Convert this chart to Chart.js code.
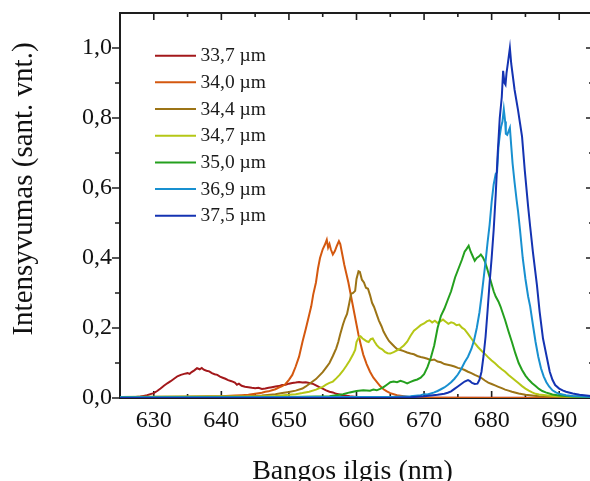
<!DOCTYPE html>
<html>
<head>
<meta charset="UTF-8" />
<style>
  html, body { margin: 0; padding: 0; overflow: hidden; background: #fff; }
  canvas { display: block; }
</style>
</head>
<body>
<canvas id="myChart" width="596" height="481"></canvas>
<script src="https://cdn.jsdelivr.net/npm/chart.js@4"></script>
<script>
// spectra: [wavelength nm, intensity a.u.]
const s337 = [[625,0.002],[626,0.003],[627,0.002],[628,0.004],[628.5,0.006],[629,0.008],[629.5,0.011],[630,0.014],[630.5,0.02],[631,0.027],[631.5,0.035],[632,0.042],[632.5,0.048],[633,0.055],[633.5,0.062],[634,0.066],[634.5,0.069],[635,0.071],[635.3,0.069],[635.6,0.074],[636,0.079],[636.4,0.085],[636.8,0.082],[637.1,0.086],[637.4,0.081],[637.8,0.078],[638.2,0.076],[638.6,0.071],[639,0.068],[639.4,0.066],[639.8,0.061],[640.2,0.058],[640.6,0.055],[641,0.051],[641.5,0.048],[642,0.044],[642.3,0.038],[642.6,0.041],[643,0.035],[643.5,0.032],[644,0.031],[644.5,0.029],[645,0.028],[645.5,0.029],[646,0.026],[646.5,0.027],[647,0.029],[647.5,0.031],[648,0.033],[648.5,0.034],[649,0.037],[649.5,0.038],[650,0.041],[650.5,0.043],[651,0.044],[651.5,0.046],[652,0.044],[652.5,0.045],[653,0.043],[653.5,0.041],[654,0.036],[654.5,0.031],[655,0.027],[655.5,0.022],[656,0.018],[656.5,0.016],[657,0.012],[657.5,0.01],[658,0.008],[659,0.005],[660,0.003],[665,0.002],[670,0.001],[680,0.001],[695,0.001]];
const s340 = [[625,0.003],[630,0.002],[635,0.003],[638,0.004],[640,0.005],[642,0.007],[643,0.008],[644,0.009],[645,0.012],[646,0.015],[646.5,0.018],[647,0.019],[647.5,0.022],[648,0.025],[648.5,0.03],[649,0.034],[649.5,0.04],[650,0.052],[650.5,0.066],[651,0.09],[651.5,0.118],[652,0.16],[652.5,0.198],[653,0.238],[653.3,0.262],[653.6,0.296],[654,0.33],[654.3,0.37],[654.6,0.4],[655,0.425],[655.3,0.437],[655.6,0.452],[655.8,0.43],[656,0.44],[656.2,0.425],[656.5,0.41],[656.8,0.42],[657.1,0.435],[657.4,0.448],[657.6,0.44],[657.9,0.41],[658.2,0.38],[658.5,0.355],[658.8,0.33],[659.1,0.3],[659.4,0.27],[659.7,0.24],[660,0.21],[660.3,0.18],[660.6,0.155],[661,0.124],[661.5,0.097],[662,0.075],[662.5,0.058],[663,0.046],[663.5,0.034],[664,0.025],[664.5,0.019],[665,0.014],[666,0.008],[667,0.005],[668,0.002],[670,0.001],[680,0],[695,0]];
const s344 = [[625,0.003],[635,0.004],[640,0.004],[644,0.005],[646,0.007],[648,0.011],[649,0.014],[650,0.017],[651,0.021],[652,0.027],[652.5,0.033],[653,0.04],[653.5,0.047],[654,0.054],[654.5,0.064],[655,0.074],[655.5,0.087],[656,0.1],[656.5,0.12],[657,0.142],[657.3,0.16],[657.6,0.183],[658,0.21],[658.3,0.227],[658.6,0.24],[658.9,0.268],[659.2,0.298],[659.5,0.3],[659.8,0.306],[660,0.34],[660.3,0.362],[660.5,0.36],[660.8,0.338],[661.1,0.33],[661.4,0.315],[661.7,0.312],[662,0.294],[662.3,0.272],[662.6,0.26],[663,0.238],[663.3,0.222],[663.7,0.205],[664,0.19],[664.4,0.176],[664.8,0.163],[665.2,0.155],[665.6,0.147],[666,0.14],[666.5,0.137],[667,0.134],[667.5,0.13],[668,0.127],[668.5,0.125],[669,0.12],[669.5,0.117],[670,0.115],[670.5,0.112],[671,0.108],[671.5,0.11],[672,0.104],[672.5,0.102],[673,0.097],[673.5,0.095],[674,0.093],[674.5,0.09],[675,0.086],[675.5,0.084],[676,0.08],[676.5,0.075],[677,0.071],[677.5,0.066],[678,0.062],[678.5,0.057],[679,0.05],[679.5,0.044],[680,0.04],[680.5,0.036],[681,0.032],[681.5,0.028],[682,0.024],[682.5,0.021],[683,0.018],[684,0.013],[685,0.009],[686,0.007],[687,0.005],[689,0.004],[695,0.003]];
const s347 = [[625,0.003],[640,0.004],[645,0.004],[648,0.006],[650,0.009],[651,0.011],[652,0.014],[653,0.018],[654,0.024],[655,0.032],[655.5,0.038],[656,0.043],[656.5,0.047],[657,0.056],[657.5,0.066],[658,0.078],[658.5,0.092],[659,0.107],[659.5,0.125],[659.8,0.137],[660,0.16],[660.3,0.172],[660.6,0.176],[660.9,0.17],[661.2,0.166],[661.5,0.162],[661.8,0.16],[662.1,0.168],[662.4,0.17],[662.7,0.16],[663,0.151],[663.4,0.143],[663.8,0.139],[664.2,0.132],[664.6,0.128],[665,0.127],[665.5,0.131],[666,0.136],[666.5,0.142],[667,0.15],[667.5,0.161],[668,0.178],[668.5,0.192],[669,0.2],[669.5,0.208],[670,0.213],[670.4,0.219],[670.8,0.222],[671.2,0.216],[671.6,0.221],[672,0.214],[672.4,0.219],[672.8,0.224],[673.2,0.218],[673.6,0.212],[674,0.216],[674.4,0.214],[674.8,0.208],[675.2,0.21],[675.6,0.201],[676,0.196],[676.5,0.183],[677,0.17],[677.5,0.157],[678,0.145],[678.5,0.135],[679,0.126],[679.5,0.116],[680,0.107],[680.5,0.099],[681,0.09],[681.5,0.082],[682,0.075],[682.5,0.066],[683,0.058],[683.5,0.05],[684,0.042],[684.5,0.034],[685,0.027],[685.5,0.021],[686,0.016],[686.5,0.012],[687,0.01],[688,0.008],[689,0.006],[691,0.004],[695,0.003]];
const s350 = [[625,0.002],[640,0.003],[650,0.003],[654,0.004],[656,0.005],[657,0.008],[658,0.011],[659,0.016],[660,0.02],[661,0.022],[662,0.021],[662.5,0.024],[663,0.022],[663.5,0.026],[664,0.031],[664.5,0.038],[665,0.045],[665.5,0.047],[666,0.045],[666.5,0.049],[667,0.046],[667.5,0.042],[668,0.046],[668.5,0.05],[669,0.053],[669.5,0.058],[670,0.068],[670.5,0.088],[671,0.115],[671.5,0.15],[672,0.2],[672.5,0.235],[673,0.255],[673.5,0.28],[674,0.305],[674.3,0.325],[674.6,0.345],[675,0.365],[675.3,0.38],[675.6,0.395],[676,0.418],[676.3,0.426],[676.6,0.435],[676.9,0.418],[677.2,0.405],[677.5,0.392],[677.8,0.4],[678.1,0.404],[678.4,0.41],[678.7,0.402],[679,0.39],[679.3,0.372],[679.6,0.352],[680,0.325],[680.3,0.305],[680.6,0.29],[681,0.276],[681.3,0.262],[681.6,0.245],[682,0.222],[682.5,0.19],[683,0.16],[683.5,0.128],[684,0.1],[684.5,0.08],[685,0.064],[685.5,0.052],[686,0.042],[686.5,0.034],[687,0.026],[687.5,0.02],[688,0.016],[689,0.01],[690,0.007],[692,0.004],[695,0.003]];
const s369 = [[625,0.002],[640,0.002],[655,0.003],[665,0.003],[668,0.005],[669.5,0.008],[670,0.011],[670.5,0.01],[671,0.013],[671.5,0.016],[672,0.02],[672.5,0.025],[673,0.03],[673.5,0.037],[674,0.045],[674.5,0.055],[675,0.067],[675.5,0.083],[676,0.102],[676.5,0.118],[677,0.14],[677.4,0.165],[677.8,0.2],[678.2,0.245],[678.5,0.29],[678.8,0.34],[679.1,0.39],[679.4,0.445],[679.7,0.495],[680,0.56],[680.3,0.61],[680.6,0.64],[680.8,0.645],[681,0.715],[681.2,0.75],[681.4,0.775],[681.6,0.79],[681.8,0.825],[682,0.79],[682.1,0.755],[682.3,0.752],[682.5,0.762],[682.7,0.772],[682.9,0.72],[683.1,0.67],[683.4,0.615],[683.7,0.565],[683.9,0.535],[684.2,0.48],[684.6,0.4],[685,0.34],[685.4,0.29],[685.7,0.262],[686.1,0.21],[686.5,0.16],[686.9,0.118],[687.3,0.085],[687.7,0.062],[688.1,0.045],[688.5,0.033],[689,0.022],[689.5,0.016],[690,0.012],[691,0.008],[692,0.006],[693.5,0.004],[695,0.003]];
const s375 = [[625,0],[665,0],[668,0.002],[670,0.005],[671,0.007],[672,0.009],[673,0.012],[673.5,0.015],[674,0.019],[674.5,0.026],[675,0.033],[675.5,0.04],[676,0.047],[676.5,0.051],[676.8,0.048],[677.1,0.043],[677.5,0.04],[677.9,0.041],[678.2,0.052],[678.5,0.075],[678.8,0.12],[679.1,0.175],[679.4,0.25],[679.7,0.33],[680,0.4],[680.3,0.48],[680.6,0.58],[680.9,0.7],[681.2,0.8],[681.5,0.86],[681.7,0.935],[681.9,0.9],[682.05,0.895],[682.2,0.928],[682.4,0.956],[682.7,1.0],[682.9,0.955],[683.1,0.925],[683.4,0.88],[683.9,0.823],[684.2,0.785],[684.5,0.747],[684.9,0.651],[685.4,0.547],[685.7,0.49],[686.1,0.418],[686.7,0.323],[687.1,0.247],[687.6,0.17],[688.2,0.113],[688.6,0.075],[689,0.052],[689.4,0.037],[690,0.027],[690.5,0.022],[691,0.018],[692,0.013],[693,0.009],[694,0.007],[695,0.005]];

const series = [s337, s340, s344, s347, s350, s369, s375];
const names = ["33,7 µm", "34,0 µm", "34,4 µm", "34,7 µm", "35,0 µm", "36,9 µm", "37,5 µm"];
const colors = ["#a3181b", "#d4580f", "#9c7416", "#b5c716", "#24a01e", "#1890d0", "#1433b2"];

const xTicks = [630, 640, 650, 660, 670, 680, 690];
const xMinor = [635, 645, 655, 665, 675, 685];
const yTicks = [0, 0.2, 0.4, 0.6, 0.8, 1.0];
const yMinor = [0.1, 0.3, 0.5, 0.7, 0.9];

const serif = "'Liberation Serif', 'Times New Roman', serif";

const frame = {
  id: "frame",
  beforeDatasetsDraw(chart) {
    const ctx = chart.ctx, a = chart.chartArea;
    const xs = chart.scales.x, ys = chart.scales.y;
    ctx.save();
    ctx.strokeStyle = "#1e1e1e";
    ctx.lineWidth = 2;
    ctx.strokeRect(a.left, a.top, a.right - a.left, a.bottom - a.top);
    ctx.lineWidth = 1.6;
    ctx.beginPath();
    function xt(v, len) {
      const p = xs.getPixelForValue(v);
      ctx.moveTo(p, a.bottom); ctx.lineTo(p, a.bottom - len);
      ctx.moveTo(p, a.top); ctx.lineTo(p, a.top + len);
    }
    function yt(v, len) {
      const p = ys.getPixelForValue(v);
      ctx.moveTo(a.left, p); ctx.lineTo(a.left - len - 1, p);
      ctx.moveTo(a.right, p); ctx.lineTo(a.right - len, p);
    }
    xTicks.forEach(v => xt(v, 7));
    xMinor.forEach(v => xt(v, 4));
    yTicks.forEach(v => yt(v, 7));
    yMinor.forEach(v => yt(v, 4));
    ctx.stroke();
    ctx.restore();
  },
  afterDraw(chart) {
    const ctx = chart.ctx;
    ctx.save();
    // legend
    ctx.font = "19.5px " + serif;
    ctx.textBaseline = "middle";
    ctx.textAlign = "left";
    names.forEach((n, i) => {
      const y = 55.7 + i * 26.67;
      ctx.strokeStyle = colors[i];
      ctx.lineWidth = 2;
      ctx.beginPath();
      ctx.moveTo(155, y); ctx.lineTo(196, y);
      ctx.stroke();
      ctx.fillStyle = "#1a1a1a";
      ctx.fillText(n, 200.5, y + 0.5);
    });
    // axis titles
    ctx.fillStyle = "#111";
    ctx.font = "28px " + serif;
    ctx.textAlign = "center";
    ctx.textBaseline = "alphabetic";
    ctx.fillText("Bangos ilgis (nm)", 352.5, 479);
    ctx.font = "29px " + serif;
    ctx.translate(31.5, 189);
    ctx.rotate(-Math.PI / 2);
    ctx.fillText("Intensyvumas (sant. vnt.)", 0, 0);
    ctx.restore();
  }
};

const data = {
  datasets: series.map((s, i) => ({
    label: names[i],
    data: s.map(p => ({ x: p[0], y: p[1] })),
    borderColor: colors[i],
    backgroundColor: colors[i],
    borderWidth: 2,
    pointRadius: 0,
    fill: false,
    tension: 0,
    order: series.length - 1 - i
  }))
};

const config = {
  type: "line",
  data: data,
  options: {
    responsive: false,
    animation: false,
    devicePixelRatio: 1,
    layout: { padding: { top: 13, right: 3, left: 0, bottom: 0 } },
    plugins: {
      legend: { display: false },
      tooltip: { enabled: false }
    },
    scales: {
      x: {
        type: "linear",
        min: 625,
        max: 695,
        grid: { display: false, drawTicks: false },
        border: { display: false },
        ticks: {
          color: "#111",
          padding: 8,
          maxRotation: 0,
          font: { family: serif, size: 24 }
        },
        afterBuildTicks: function(scale) {
          scale.ticks = xTicks.map(v => ({ value: v }));
        },
        afterFit: function(scale) {
          scale.height = 83;
          scale.paddingLeft = 0;
          scale.paddingRight = 0;
        }
      },
      y: {
        type: "linear",
        min: 0,
        max: 1.1,
        grid: { display: false, drawTicks: false },
        border: { display: false },
        ticks: {
          color: "#111",
          padding: 8,
          font: { family: serif, size: 24 },
          callback: function(value) {
            return value.toFixed(1).replace(".", ",");
          }
        },
        afterBuildTicks: function(scale) {
          scale.ticks = yTicks.map(v => ({ value: v }));
        },
        afterFit: function(scale) {
          scale.width = 120;
          scale.paddingTop = 0;
          scale.paddingBottom = 0;
        }
      }
    }
  },
  plugins: [frame]
};

var myChart = new Chart(document.getElementById("myChart"), config);
</script>
</body>
</html>
